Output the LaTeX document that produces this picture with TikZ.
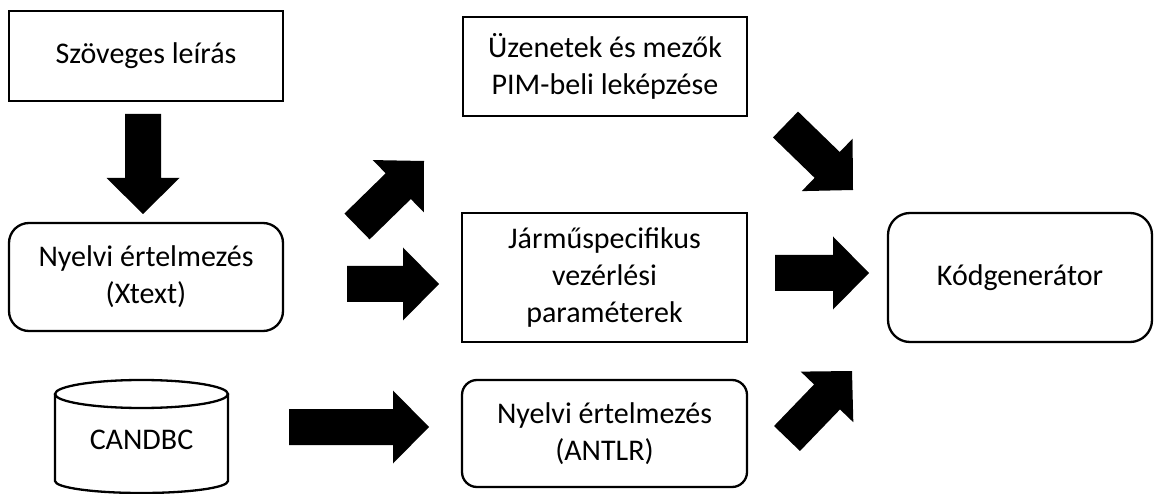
\documentclass[tikz,border=0pt]{standalone}
\usepackage{fontspec}
\setmainfont{Carlito}
\usetikzlibrary{calc}

% Thick block arrow from tail midpoint #1 to tip #2
\newcommand{\blockarrow}[2]{%
  \coordinate (ba-base) at ($(#2)!36pt!(#1)$);
  \fill[black]
    ($(#1)!18pt!90:(#2)$) -- ($(ba-base)!18pt!90:(#2)$) --
    ($(ba-base)!36.5pt!90:(#2)$) -- (#2) --
    ($(ba-base)!36.5pt!-90:(#2)$) -- ($(ba-base)!18pt!-90:(#2)$) --
    ($(#1)!18pt!-90:(#2)$) -- cycle;
}

\tikzset{
  box/.style={draw, line width=2.3pt, fill=white, inner sep=0pt, outer sep=0pt,
    align=center, font=\fontsize{30}{37}\selectfont},
  roundbox/.style={box, rounded corners=#1},
  label text/.style={inner sep=0pt, align=center, font=\fontsize{30}{37}\selectfont},
}

\begin{document}
\begin{tikzpicture}[x=1pt, y=-1pt]
  \useasboundingbox (0,0) rectangle (1154,494);

  % boxes
  \node[box, minimum width=274pt, minimum height=90pt] (src) at (146,56) {Szöveges leírás};
  \node[roundbox=20pt, minimum width=274pt, minimum height=108pt] (xtext) at (146,277) {Nyelvi értelmezés\\(Xtext)};
  \node[box, minimum width=284pt, minimum height=99pt] (pim) at (605,66.5) {Üzenetek és mezők\\PIM-beli leképzése};
  \node[box, minimum width=285pt, minimum height=129pt] (veh) at (604.5,277.5) {Járműspecifikus\\vezérlési\\paraméterek};
  \node[roundbox=15pt, minimum width=285pt, minimum height=107pt] (antlr) at (604.5,433.5) {Nyelvi értelmezés\\(ANTLR)};
  \node[roundbox=22pt, minimum width=264pt, minimum height=129pt] (gen) at (1020,277.5) {Kódgenerátor};

  % database cylinder
  \filldraw[fill=white, line width=2.3pt]
    (55,394) -- (55,481)
    arc[start angle=180, end angle=360, x radius=86.5pt, y radius=12pt]
    -- (228,394);
  \draw[line width=2.3pt] (141.5,394) ellipse [x radius=86.5pt, y radius=14pt];
  \node[label text] (db) at (141.5,440) {CANDBC};

  % arrow end points
  \coordinate (a1t) at (143,114);    \coordinate (a1h) at (143,214);
  \coordinate (a2t) at (347,284);    \coordinate (a2h) at (439,284);
  \coordinate (a3t) at (357,226.5);  \coordinate (a3h) at (424,161);
  \coordinate (a4t) at (289,427);    \coordinate (a4h) at (429,427);
  \coordinate (a5t) at (785.5,124.5);\coordinate (a5h) at (853,190);
  \coordinate (a6t) at (775,273);    \coordinate (a6h) at (869,273);
  \coordinate (a7t) at (787,438.5);  \coordinate (a7h) at (852,371);

  \blockarrow{a1t}{a1h}
  \blockarrow{a2t}{a2h}
  \blockarrow{a3t}{a3h}
  \blockarrow{a4t}{a4h}
  \blockarrow{a5t}{a5h}
  \blockarrow{a6t}{a6h}
  \blockarrow{a7t}{a7h}
\end{tikzpicture}
\end{document}
